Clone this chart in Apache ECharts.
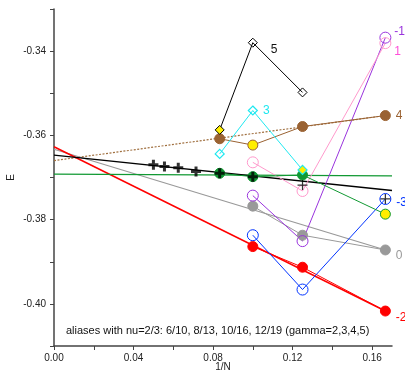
<!DOCTYPE html>
<html>
<head>
<meta charset="utf-8">
<script src="https://cdn.jsdelivr.net/npm/echarts@6/dist/echarts.min.js"></script>
<style>
  html, body { margin: 0; padding: 0; background: #fff; }
  #chart { width: 405px; height: 373px; }
</style>
</head>
<body>
<div id="chart"></div>
<script>
// 1/N for N = 12, 10, 8, 6
var invN = [1 / 12, 1 / 10, 1 / 8, 1 / 6];
// black crosses, N = 20, 18, 16, 14, 12, 10, 8, 6
var crossX = [1 / 20, 1 / 18, 1 / 16, 1 / 14, 1 / 12, 1 / 10, 1 / 8, 1 / 6];
var crossE = [-0.3670, -0.3674, -0.3677, -0.3686, -0.3690, -0.3698, -0.3718, -0.3751];

// energies per momentum sector (same order as invN, null = missing)
var e5  = [-0.3587, -0.3380, -0.3498, null];
var e3  = [-0.3644, -0.3541, -0.3682, null];
var e4  = [-0.3608, -0.3623, -0.3579, -0.3553];
var e2  = [-0.3690, -0.3698, -0.3694, -0.3787];
var e1  = [null, -0.3664, -0.3732, -0.3381];
var em1 = [null, -0.3743, -0.3851, -0.3368];
var e0  = [null, -0.3768, -0.3837, -0.3872];
var em2 = [null, -0.3864, -0.3913, -0.4017];
var em3 = [null, -0.3837, -0.3966, -0.3751];

// extrapolation lines [x, E]
var fitBlack = [[0, -0.3647], [0.17, -0.3731]];
var fitGreen = [[0, -0.3692], [0.17, -0.3696]];
var fitBrown = [[0, -0.3660], [1 / 6, -0.3553]];
var fitGray  = [[0, -0.3633], [1 / 6, -0.3872]];
var fitRed   = [[0, -0.3627], [1 / 6, -0.4017]];

// which point of a series is an alias (yellow fill)
var alias = { e5: 0, e4: 1, e3: 2, e2: 3 };

var xLabels = [0, 0.04, 0.08, 0.12, 0.16];
var xTicks = [0, 0.02, 0.04, 0.06, 0.08, 0.10, 0.12, 0.14, 0.16];
var yLabels = [-0.40, -0.38, -0.36, -0.34];
var yTicks = [-0.41, -0.40, -0.39, -0.38, -0.37, -0.36, -0.35, -0.34, -0.33];

var YEL = '#ffee00';
var FONT = '"Liberation Sans", Arial, sans-serif';
var PLUS = 'path://M2.8,0H5.2V2.8H8V5.2H5.2V8H2.8V5.2H0V2.8H2.8Z';
var PLUS_THIN = 'path://M3.5,0H4.5V3.5H8V4.5H4.5V8H3.5V4.5H0V3.5H3.5Z';

function pts(arr, opts) {
  var out = [];
  arr.forEach(function (v, i) {
    if (v == null) return;
    var item = { value: [invN[i], v] };
    if (opts.alias === i) {
      item.itemStyle = { color: YEL };
    }
    if (opts.labelAt === i) {
      item.label = {
        show: true, formatter: opts.text, position: 'right',
        offset: opts.offset || [0, 0], color: opts.labelColor || opts.color,
        fontSize: 12, fontFamily: FONT
      };
    }
    out.push(item);
  });
  return out;
}

function fitLine(data, color, width, type) {
  return {
    type: 'line', data: data, symbol: 'none', silent: true, z: 1,
    lineStyle: { color: color, width: width, type: type || 'solid' }
  };
}

function dataLine(arr, o) {
  return {
    type: 'line', z: 3,
    data: pts(arr, o),
    symbol: o.symbol, symbolSize: o.size,
    lineStyle: { color: o.color, width: 1 },
    itemStyle: {
      color: o.fill, borderColor: o.color, borderWidth: o.bw || 1
    }
  };
}

var chart = echarts.init(document.getElementById('chart'));
var option = {
  animation: false,
  grid: { left: 54, right: 13, top: 9, bottom: 27, outerBoundsMode: 'none', containLabel: false },
  xAxis: {
    type: 'value', min: 0, max: 0.17,
    name: '1/N', nameLocation: 'middle', nameGap: 16, nameMoveOverlap: false,
    nameTextStyle: { fontSize: 10, color: '#222', fontFamily: FONT },
    axisLine: { show: true, onZero: false, lineStyle: { color: '#444', width: 1.5 } },
    axisTick: { show: true, length: 4, customValues: xTicks, lineStyle: { color: '#444' } },
    axisLabel: {
      customValues: xLabels, margin: 7, fontSize: 10, color: '#222', fontFamily: FONT,
      formatter: function (v) { return v.toFixed(2); }
    },
    splitLine: { show: false }
  },
  yAxis: {
    type: 'value', min: -0.41, max: -0.33,
    name: 'E', nameLocation: 'middle', nameGap: 38, nameRotate: 90, nameMoveOverlap: false,
    nameTextStyle: { fontSize: 10, color: '#222', fontFamily: FONT },
    axisLine: { show: true, onZero: false, lineStyle: { color: '#444', width: 1.5 } },
    axisTick: { show: true, length: 4, customValues: yTicks, lineStyle: { color: '#444' } },
    axisLabel: {
      customValues: yLabels, margin: 8, fontSize: 10, color: '#222', fontFamily: FONT,
      formatter: function (v) { return v.toFixed(2); }
    },
    splitLine: { show: false }
  },
  graphic: [{
    type: 'text', left: 66, top: 325,
    style: {
      text: 'aliases with nu=2/3: 6/10, 8/13, 10/16, 12/19 (gamma=2,3,4,5)',
      fontSize: 11, fontFamily: FONT, fill: '#111'
    }
  }],
  series: [
    fitLine(fitBrown, '#a07040', 1.2, [2, 1.5]),
    fitLine(fitGray, '#999999', 1.2),
    fitLine(fitRed, '#ff0000', 1.5),
    fitLine(fitGreen, '#119933', 1.3),
    fitLine(fitBlack, '#000000', 1.4),

    dataLine(e0, { symbol: 'circle', size: 10, color: '#999999', fill: '#999999',
      labelAt: 3, text: '0', offset: [0, 6] }),
    dataLine(em2, { symbol: 'circle', size: 10, color: '#ff0000', fill: '#ff0000',
      labelAt: 3, text: '-2', offset: [0, 7] }),
    dataLine(em3, { symbol: 'circle', size: 11, color: '#0033ff', fill: 'transparent',
      labelAt: 3, text: '-3', offset: [0, 4] }),
    dataLine(em1, { symbol: 'circle', size: 11, color: '#9933dd', fill: 'transparent',
      labelAt: 3, text: '-1', offset: [-2, -6] }),
    dataLine(e1, { symbol: 'circle', size: 11, color: '#ff99cc', fill: 'transparent',
      labelAt: 3, text: '1', offset: [-2, 9], labelColor: '#ff4fd8' }),
    dataLine(e4, { symbol: 'circle', size: 10, color: '#9a6232', fill: '#9a6232',
      alias: alias.e4, labelAt: 3, text: '4' }),
    dataLine(e2, { symbol: 'circle', size: 10, color: '#119933', fill: '#119933',
      alias: alias.e2 }),
    dataLine(e3, { symbol: 'diamond', size: 9, color: '#1ee8f0', fill: 'transparent',
      alias: alias.e3, labelAt: 1, text: '3', bw: 1.2 }),
    dataLine(e5, { symbol: 'diamond', size: 9, color: '#000000', fill: 'transparent',
      alias: alias.e5, labelAt: 1, text: '5', offset: [8, 7], labelColor: '#111' }),

    {
      type: 'scatter', z: 5,
      data: crossX.map(function (x, i) {
        var item = { value: [x, crossE[i]] };
        if (x > 0.11) item.symbol = PLUS_THIN;
        return item;
      }),
      symbol: PLUS, symbolSize: 10,
      itemStyle: { color: '#000' }
    },
    {
      // label for the flat green extrapolation
      type: 'scatter', z: 5, symbol: 'none',
      data: [{ value: fitGreen[1], label: { show: true, formatter: '2', position: 'right',
        offset: [2, -5], color: '#22aa44', fontSize: 12, fontFamily: FONT } }]
    }
  ]
};
chart.setOption(option);
</script>
</body>
</html>
